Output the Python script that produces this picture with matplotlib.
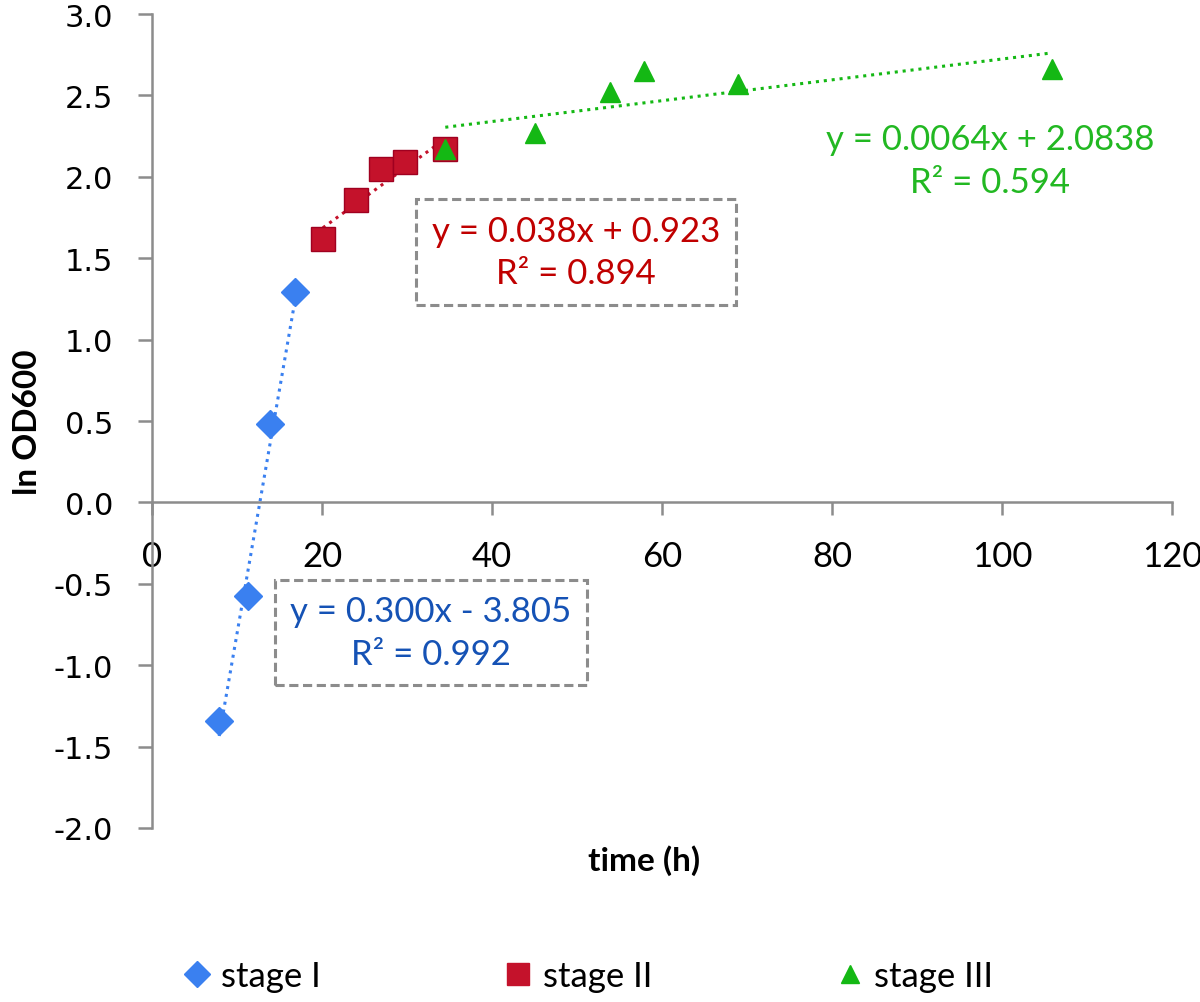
import numpy as np
import matplotlib.pyplot as plt
from matplotlib.lines import Line2D

# data
t1 = [7.9, 11.3, 13.9, 16.8]
y1 = [-1.345, -0.577, 0.479, 1.29]
t2 = [20.1, 24.0, 26.9, 29.8, 34.5]
y2 = [1.62, 1.86, 2.05, 2.09, 2.17]
t3 = [34.5, 45.1, 53.9, 57.9, 68.9, 105.9]
y3 = [2.17, 2.27, 2.52, 2.65, 2.57, 2.66]

fit1 = (0.300, -3.805)
fit2 = (0.038, 0.923)
fit3 = (0.0064, 2.0838)

blue = "#3a80f0"
red = "#c4122b"
green = "#14b814"
txt_blue = "#1552b5"
txt_red = "#c00000"
txt_green = "#22b822"
gray = "#8c8c8c"

fig = plt.figure(figsize=(12, 10.03), dpi=100)
ax = fig.add_axes([0.1267, 0.1735, 0.85, 0.8115])

# trendlines
for t, (a, b), c in [(t1, fit1, blue), (t2, fit2, red), (t3, fit3, green)]:
    xx = np.array([min(t), max(t)])
    ax.plot(xx, a * xx + b, linestyle=(0, (1, 1.6)), color=c, lw=2.2, zorder=2)

ax.plot(t1, y1, "D", ms=14, color=blue, mec=blue, zorder=3)
ax.plot(t2, y2, "s", ms=17, color=red, mec="#a00020", zorder=3)
ax.plot(t3, y3, "^", ms=15, color=green, mec=green, zorder=4)

ax.spines["top"].set_visible(False)
ax.spines["right"].set_visible(False)
ax.spines["bottom"].set_position(("data", 0))
for s in ["left", "bottom"]:
    ax.spines[s].set_color(gray)
    ax.spines[s].set_linewidth(1.8)

ax.set_xlim(0, 120)
ax.set_ylim(-2, 3)
xt = list(range(0, 121, 20))
yt = np.arange(-2, 3.01, 0.5)
ax.set_xticks(xt)
ax.set_yticks(yt)
ax.set_yticklabels([f"{v:.1f}" for v in yt], fontfamily="DejaVu Sans", fontsize=22)
ax.set_xticklabels([str(v) for v in xt], fontfamily="Lato", fontsize=25)
ax.tick_params(axis="y", direction="out", length=10, width=1.8, color=gray, pad=18)
ax.tick_params(axis="x", direction="out", length=9, width=1.8, color=gray, pad=18)

ax.set_ylabel("ln OD600", fontfamily="Lato", fontweight="bold", fontsize=24)
ax.yaxis.set_label_coords(-0.108, 0.5)
ax.set_xlabel("time (h)", fontfamily="Lato", fontweight="bold", fontsize=24)
ax.xaxis.set_label_coords(0.482, -0.02)

box = dict(boxstyle="square,pad=0.45", fc="white", ec=gray, lw=2.2, ls=(0, (3, 1.5)))
ax.text(49.9, 1.54, "y = 0.038x + 0.923\nR² = 0.894", color=txt_red, fontsize=25,
        fontfamily="Lato", ha="center", va="center", linespacing=1.4, bbox=box, zorder=1)
ax.text(32.8, -0.80, "y = 0.300x - 3.805\nR² = 0.992", color=txt_blue, fontsize=25,
        fontfamily="Lato", ha="center", va="center", linespacing=1.4, bbox=box, zorder=1)
ax.text(98.6, 2.10, "y = 0.0064x + 2.0838\nR² = 0.594", color=txt_green, fontsize=25,
        fontfamily="Lato", ha="center", va="center", linespacing=1.4)

handles = [
    Line2D([], [], marker="D", ls="none", ms=13, color=blue),
    Line2D([], [], marker="s", ls="none", ms=16, color=red),
    Line2D([], [], marker="^", ls="none", ms=13, color=green),
]
fig.legend(handles, ["stage I", "stage II", "stage III"], loc="center",
           bbox_to_anchor=(0.49, 1 - 977 / 1003), ncol=3, frameon=False,
           prop={"family": "Lato", "size": 25}, columnspacing=5.3,
           handlelength=0.8, handletextpad=0.3)

fig.savefig("out.png", dpi=100)
